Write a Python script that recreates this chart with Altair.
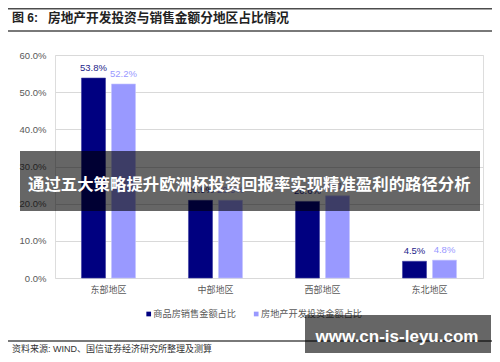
import altair as alt
import pandas as pd

regions = ["东部地区", "中部地区", "西部地区", "东北地区"]
series = ["商品房销售金额占比", "房地产开发投资金额占比"]
sales = [53.8, 20.9, 20.6, 4.5]
invest = [52.2, 20.9, 22.1, 4.8]
y_ticks = [0, 10, 20, 30, 40, 50, 60]

title_prefix = "图 6:"
title_text = "房地产开发投资与销售金额分地区占比情况"
source_text = "资料来源: WIND、国信证券经济研究所整理及测算"
banner_text = "通过五大策略提升欧洲杯投资回报率实现精准盈利的路径分析"
watermark_text = "www.cn-is-leyu.com"

DARK = "#000080"
LIGHT = "#9999ff"
LAT = "Liberation Sans, Noto Sans CJK SC"
CJK = "Noto Sans CJK SC"

rows = []
for r, s, v in zip(regions, sales, invest):
    rows.append({"region": r, "series": series[0], "value": s})
    rows.append({"region": r, "series": series[1], "value": v})
df = pd.DataFrame(rows)
one = pd.DataFrame({"k": [0]})

x_enc = alt.X(
    "region:N", sort=regions, title=None,
    scale=alt.Scale(paddingInner=0.495, paddingOuter=0.2475),
    axis=alt.Axis(labelAngle=0, ticks=False, domain=False, labelFont=CJK,
                  labelFontSize=9, labelColor="#595959", labelPadding=7),
)
xo_enc = alt.XOffset("series:N", sort=series,
                     scale=alt.Scale(paddingInner=0.2, paddingOuter=0))
y_enc = alt.Y(
    "value:Q", title=None, scale=alt.Scale(domain=[0, 60], nice=False),
    axis=alt.Axis(values=y_ticks, labelExpr="format(datum.value, '.1f') + '%'",
                  ticks=False, domain=False, labelFont="Liberation Sans",
                  labelFontSize=9.5, labelColor="#595959", labelPadding=9,
                  labelOverlap=False, gridColor="#d9d9d9", gridWidth=1),
)

bars = alt.Chart(df).mark_bar(strokeWidth=0.6).encode(
    x=x_enc, xOffset=xo_enc, y=y_enc,
    color=alt.Color("series:N", sort=series,
                    scale=alt.Scale(domain=series, range=[DARK, LIGHT]), legend=None),
    stroke=alt.Stroke("series:N", sort=series,
                      scale=alt.Scale(domain=series, range=["#3a3aa0", "#c4c4ff"]), legend=None),
)

labels = alt.Chart(df).transform_calculate(
    lbl="format(datum.value, '.1f') + '%'"
).mark_text(baseline="bottom", dy=-5, font="Liberation Sans", fontSize=9.5).encode(
    x=x_enc, xOffset=xo_enc, y=y_enc,
    text="lbl:N",
    color=alt.Color("series:N", sort=series,
                    scale=alt.Scale(domain=series, range=["#24248a", LIGHT]), legend=None),
)

def rule(x1, x2, y, color="#4d4d4d", w=1.4):
    return alt.Chart(one).mark_rule(color=color, strokeWidth=w).encode(
        x=alt.value(x1), x2=alt.value(x2), y=alt.value(y))

def txt(t, x, y, **kw):
    return alt.Chart(pd.DataFrame({"t": [t]})).mark_text(**kw).encode(
        x=alt.value(x), y=alt.value(y), text="t:N")

top_rule = rule(-47, 437, -46.2)
mid_rule = rule(-47, 437, -24)
bot_rule = rule(-47, 437, 286)

title_a = txt(title_prefix, -43, -37, align="left", baseline="middle", font=LAT,
              fontSize=12, color="#222222", fontWeight="bold")
title_b = txt(title_text, -7, -37, align="left", baseline="middle", font=CJK,
              fontSize=12.7, color="#222222", fontWeight="bold")
source = txt(source_text, -43, 294, align="left", baseline="middle", font=LAT,
             fontSize=9, color="#333333")

leg_sq1 = alt.Chart(one).mark_square(size=22, color=DARK, opacity=1).encode(
    x=alt.value(93.7), y=alt.value(259))
leg_sq2 = alt.Chart(one).mark_square(size=22, color=LIGHT, opacity=1).encode(
    x=alt.value(201.2), y=alt.value(259))
leg_t1 = txt(series[0], 98.3, 259, align="left", baseline="middle", font=CJK,
             fontSize=9.2, color="#595959")
leg_t2 = txt(series[1], 206, 259, align="left", baseline="middle", font=CJK,
             fontSize=9.2, color="#595959")

banner = alt.Chart(one).mark_rect(color="black", opacity=0.6).encode(
    x=alt.value(-35), x2=alt.value(425), y=alt.value(96), y2=alt.value(156))
banner_t = txt(banner_text, 194.3, 129.5, align="center", baseline="middle",
               font=CJK, fontSize=16.4, fontWeight="bold", color="white")

wm = alt.Chart(one).mark_rect(color="black", opacity=0.6).encode(
    x=alt.value(250), x2=alt.value(436), y=alt.value(260), y2=alt.value(298))
wm_t = txt(watermark_text, 342, 281.5, align="center", baseline="middle",
           font="Liberation Sans", fontSize=17, fontWeight="bold", color="white")

chart = alt.layer(
    bars, labels, top_rule, mid_rule, bot_rule, title_a, title_b, source,
    leg_sq1, leg_sq2, leg_t1, leg_t2, banner, banner_t, wm, wm_t
).resolve_scale(color="independent", stroke="independent").properties(
    width=428, height=223,
    autosize=alt.AutoSizeParams(type="none"),
    padding={"left": 47, "top": 47, "right": 9, "bottom": 76},
).configure_view(stroke=None).configure(background="white")

chart.save("out.html", embed_options={"renderer": "svg", "actions": False})
